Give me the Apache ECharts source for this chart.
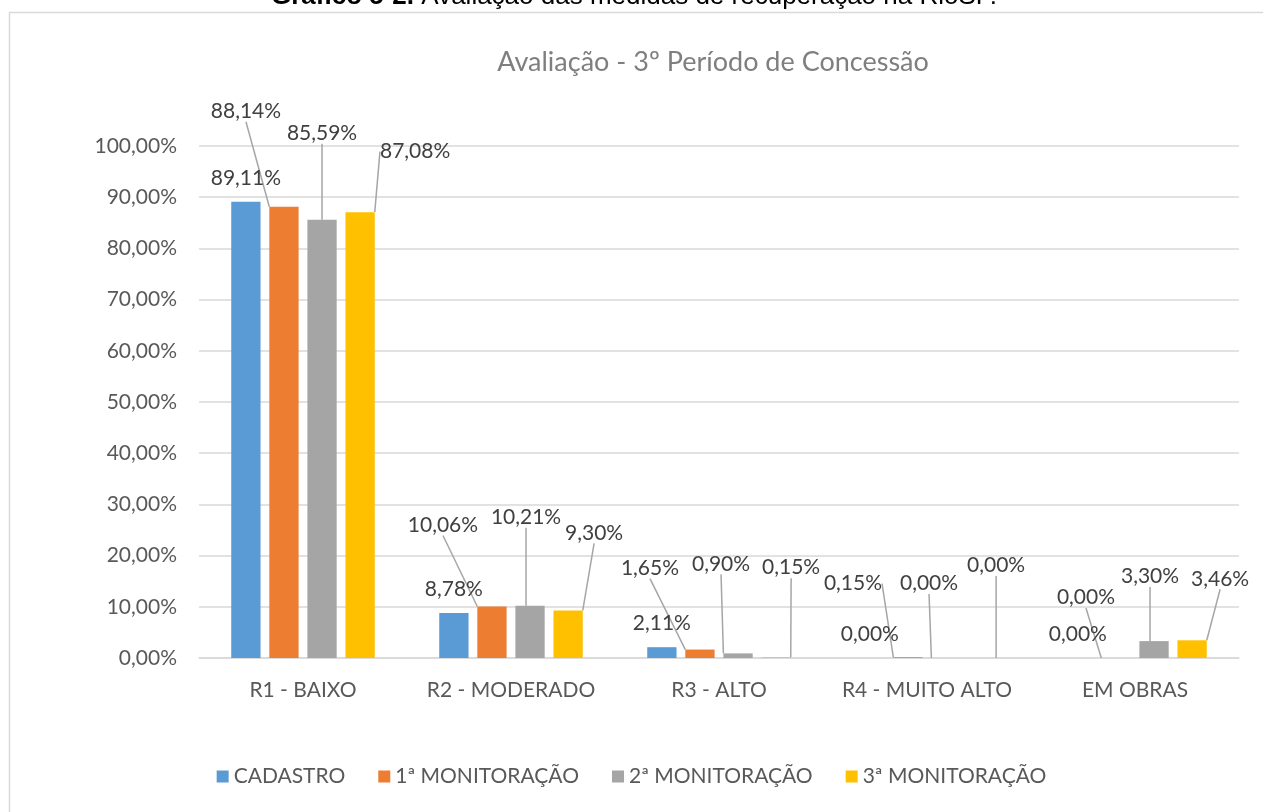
<!DOCTYPE html>
<html>
<head>
<meta charset="utf-8">
<title>Avaliação - 3º Período de Concessão</title>
<script src="https://cdn.jsdelivr.net/npm/echarts@6/dist/echarts.min.js"></script>
<style>
  html, body { margin: 0; padding: 0; background: #fff; }
  #chart { width: 1263px; height: 812px; }
</style>
</head>
<body>
<div id="chart"></div>
<script>
// categories and series (percent values)
var categories = ["R1 - BAIXO", "R2 - MODERADO", "R3 - ALTO", "R4 - MUITO ALTO", "EM OBRAS"];
var seriesNames = ["CADASTRO", "1ª MONITORAÇÃO", "2ª MONITORAÇÃO", "3ª MONITORAÇÃO"];
var cadastro = [89.11, 8.78, 2.11, 0.00, 0.00];
var monit1 = [88.14, 10.06, 1.65, 0.15, 0.00];
var monit2 = [85.59, 10.21, 0.90, 0.00, 3.30];
var monit3 = [87.08, 9.30, 0.15, 0.00, 3.46];
var colors = ["#5B9BD5", "#ED7D31", "#A5A5A5", "#FFC000"];

// callout offsets of the data labels (dx, dy from the default "top" spot)
var labelShift = [
  [[0, 0], [0, 0], [0, 0], [0, 0], [0, 0]],
  [[-38, -72], [-49, -58], [-50, -58], [-55, -50], [-30, -37]],
  [[0, -63], [-4, -65], [-17, -66], [-17, -51], [-4, -41]],
  [[55, -37], [26, -54], [15, -66], [12, -69], [28, -38]]
];

function pct(v) {
  return v.toFixed(2).replace(".", ",") + "%";
}

var font = "Lato";
var chart = echarts.init(document.getElementById("chart"));

var values = [cadastro, monit1, monit2, monit3];
var series = values.map(function (vals, i) {
  return {
    name: seriesNames[i],
    type: "bar",
    data: vals,
    barGap: "30%",
    barCategoryGap: "31%",
    itemStyle: { color: colors[i] },
    label: {
      show: true,
      position: "top",
      distance: 13,
      fontFamily: font,
      fontSize: 21,
      color: "#404040",
      formatter: function (p) { return pct(p.value); }
    },
    labelLine: {
      show: i > 0,
      lineStyle: { color: "#A6A6A6", width: 1.5 }
    },
    labelLayout: function (params) {
      var o = labelShift[params.seriesIndex][params.dataIndex];
      return { dx: o[0], dy: o[1] };
    }
  };
});

var option = {
  backgroundColor: "#fff",
  animation: false,
  color: colors,
  title: {
    text: "Avaliação - 3º Período de Concessão",
    left: 708,
    top: 44,
    textAlign: "center",
    textStyle: {
      fontFamily: font,
      fontSize: 27,
      fontWeight: "normal",
      color: "#7F7F7F"
    }
  },
  graphic: [
    {
      type: "rect",
      shape: { x: 9.5, y: 12.5, width: 1400, height: 900 },
      style: { fill: "none", stroke: "#D9D9D9", lineWidth: 1.5 },
      silent: true
    },
    {
      type: "text",
      left: 271,
      top: -16,
      style: {
        text: "{b|Gráfico 5-2.} Avaliação das medidas de recuperação na RioSP.",
        font: "26px 'Liberation Sans'",
        fill: "#000",
        rich: {
          b: { fontWeight: "bold", fontFamily: "Liberation Sans", fontSize: 26 }
        }
      }
    }
  ],
  legend: {
    data: seriesNames,
    bottom: 20,
    left: "center",
    icon: "rect",
    itemWidth: 12,
    itemHeight: 12,
    itemGap: 33,
    textStyle: { fontFamily: font, fontSize: 21, color: "#595959" }
  },
  grid: {
    left: 199,
    right: 24,
    top: 146,
    bottom: 154
  },
  xAxis: {
    type: "category",
    data: categories,
    axisTick: { show: false },
    axisLine: { lineStyle: { color: "#D9D9D9", width: 1.5 } },
    axisLabel: {
      interval: 0,
      margin: 22,
      fontFamily: font,
      fontSize: 21,
      color: "#595959"
    }
  },
  yAxis: {
    type: "value",
    min: 0,
    max: 100,
    interval: 10,
    axisLine: { show: false },
    axisTick: { show: false },
    splitLine: { lineStyle: { color: "#D9D9D9", width: 1.5 } },
    axisLabel: {
      margin: 22,
      fontFamily: font,
      fontSize: 21,
      color: "#595959",
      formatter: function (v) { return pct(v); }
    }
  },
  series: series
};

chart.setOption(option);
</script>
</body>
</html>
